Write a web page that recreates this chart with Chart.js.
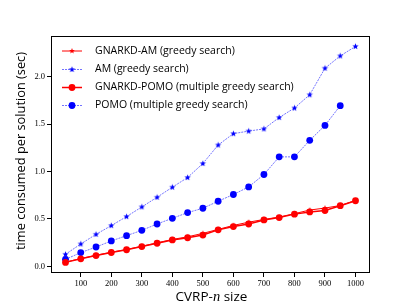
<!DOCTYPE html>
<html>
<head>
<meta charset="utf-8">
<script src="https://cdn.jsdelivr.net/npm/chart.js@4.4.0/dist/chart.umd.min.js"></script>
<style>
  html, body { margin: 0; padding: 0; background: #fff; }
  #wrap { width: 411px; height: 308px; }
</style>
</head>
<body>
<div id="wrap"><canvas id="grafico" width="411" height="308"></canvas></div>
<script>
const sizes = [50, 100, 150, 200, 250, 300, 350, 400, 450, 500, 550, 600, 650, 700, 750, 800, 850, 900, 950, 1000];
const pomoSizes = [50, 100, 150, 200, 250, 300, 350, 400, 450, 500, 550, 600, 650, 700, 750, 800, 850, 900, 950];

const gnarkdAm = [0.045, 0.082, 0.117, 0.149, 0.178, 0.212, 0.248, 0.284, 0.312, 0.348, 0.39, 0.432, 0.466, 0.495, 0.52, 0.556, 0.594, 0.615, 0.642, 0.695];
const am = [0.127, 0.236, 0.338, 0.43, 0.525, 0.627, 0.729, 0.835, 0.937, 1.085, 1.28, 1.40, 1.427, 1.45, 1.57, 1.67, 1.81, 2.09, 2.22, 2.32];
const gnarkdPomo = [0.042, 0.080, 0.114, 0.146, 0.175, 0.209, 0.244, 0.279, 0.302, 0.330, 0.385, 0.420, 0.447, 0.49, 0.515, 0.551, 0.574, 0.589, 0.64, 0.692];
const pomo = [0.074, 0.145, 0.204, 0.268, 0.324, 0.38, 0.447, 0.507, 0.567, 0.613, 0.687, 0.758, 0.838, 0.969, 1.155, 1.155, 1.329, 1.487, 1.695];

const xTicks = [100, 200, 300, 400, 500, 600, 700, 800, 900, 1000];
const yTicks = [0, 0.5, 1.0, 1.5, 2.0];

const labels = ['GNARKD-AM (greedy search)', 'AM (greedy search)', 'GNARKD-POMO (multiple greedy search)', 'POMO (multiple greedy search)'];

const sans = "'Open Sans', 'DejaVu Sans', sans-serif";
const serif = "'Liberation Serif', 'DejaVu Serif', serif";

// estrela preenchida (marcador '*' do matplotlib)
function fazEstrela(raio, cor) {
  const c = document.createElement('canvas');
  const s = Math.ceil(raio * 2 + 2);
  c.width = s; c.height = s;
  const g = c.getContext('2d');
  g.fillStyle = cor;
  g.beginPath();
  for (let i = 0; i < 10; i++) {
    const r = i % 2 === 0 ? raio : raio * 0.42;
    const a = -Math.PI / 2 + i * Math.PI / 5;
    const px = s / 2 + r * Math.cos(a);
    const py = s / 2 + r * Math.sin(a);
    if (i === 0) g.moveTo(px, py); else g.lineTo(px, py);
  }
  g.closePath();
  g.fill();
  return c;
}

const estrelaVermelha = fazEstrela(3, '#ff0000');
const estrelaAzul = fazEstrela(3.3, '#0000ff');

function pares(xs, ys) {
  return xs.map((x, i) => ({ x: x, y: ys[i] }));
}

const datasets = [
  {
    label: labels[0],
    data: pares(sizes, gnarkdAm),
    borderColor: '#ff0000',
    borderWidth: 1,
    pointStyle: estrelaVermelha,
    pointRadius: 3,
    backgroundColor: '#ff0000'
  },
  {
    label: labels[1],
    data: pares(sizes, am),
    borderColor: 'rgba(0,0,255,0.55)',
    borderWidth: 1,
    borderDash: [2, 1],
    pointStyle: estrelaAzul,
    pointRadius: 4,
    backgroundColor: '#0000ff'
  },
  {
    label: labels[2],
    data: pares(sizes, gnarkdPomo),
    borderColor: '#ff0000',
    borderWidth: 1.5,
    pointStyle: 'circle',
    pointRadius: 3.4,
    pointBorderWidth: 0,
    backgroundColor: '#ff0000'
  },
  {
    label: labels[3],
    data: pares(pomoSizes, pomo),
    borderColor: 'rgba(0,0,255,0.55)',
    borderWidth: 1,
    borderDash: [2, 1],
    pointStyle: 'circle',
    pointRadius: 3.4,
    pointBorderWidth: 0,
    backgroundColor: '#0000ff'
  }
];

// moldura, legenda e titulos dos eixos
const extras = {
  id: 'extras',
  afterDatasetsDraw(chart) {
    const ctx = chart.ctx;
    const a = chart.chartArea;
    ctx.save();
    ctx.strokeStyle = '#000';
    ctx.lineWidth = 1;
    ctx.strokeRect(Math.round(a.left) + 0.5, Math.round(a.top) + 0.5,
      Math.round(a.right - a.left) - 1, Math.round(a.bottom - a.top) - 1);

    // legenda
    const lx0 = 62, lx1 = 82, tx = 95;
    const ly = [51, 69.5, 87.5, 105.5];
    datasets.forEach((ds, i) => {
      const y = ly[i];
      ctx.save();
      ctx.strokeStyle = ds.borderColor;
      ctx.lineWidth = ds.borderWidth;
      ctx.setLineDash(ds.borderDash || []);
      ctx.beginPath();
      ctx.moveTo(lx0, y);
      ctx.lineTo(lx1, y);
      ctx.stroke();
      ctx.restore();
      const mx = (lx0 + lx1) / 2;
      if (ds.pointStyle === 'circle') {
        ctx.fillStyle = ds.backgroundColor;
        ctx.beginPath();
        ctx.arc(mx, y, ds.pointRadius, 0, Math.PI * 2);
        ctx.fill();
      } else {
        const img = ds.pointStyle;
        ctx.drawImage(img, mx - img.width / 2, y - img.height / 2);
      }
      ctx.fillStyle = '#000';
      ctx.font = '10.5px ' + sans;
      ctx.textBaseline = 'middle';
      ctx.textAlign = 'left';
      ctx.fillText(ds.label, tx, y);
    });

    // titulo eixo x: CVRP-n size
    ctx.fillStyle = '#000';
    ctx.textBaseline = 'alphabetic';
    const partes = [
      { t: 'CVRP-', f: '13.5px ' + sans },
      { t: 'n', f: 'italic 14.5px ' + serif },
      { t: ' size', f: '13.5px ' + sans }
    ];
    let larg = 0;
    partes.forEach(p => { ctx.font = p.f; p.w = ctx.measureText(p.t).width; larg += p.w; });
    let x = (a.left + a.right) / 2 + 1 - larg / 2;
    partes.forEach(p => { ctx.font = p.f; ctx.fillText(p.t, x, 301); x += p.w; });

    // titulo eixo y
    ctx.translate(21, 151);
    ctx.rotate(-Math.PI / 2);
    ctx.font = '12.8px ' + sans;
    ctx.textAlign = 'center';
    ctx.textBaseline = 'middle';
    ctx.fillText('time consumed per solution (sec)', 0, 0);
    ctx.restore();
  }
};

new Chart(document.getElementById('grafico').getContext('2d'), {
  type: 'line',
  data: { datasets: datasets },
  plugins: [extras],
  options: {
    responsive: false,
    animation: false,
    layout: { padding: { left: 0, top: 36, right: 41, bottom: 0 } },
    plugins: {
      legend: { display: false },
      tooltip: { enabled: false }
    },
    scales: {
      x: {
        type: 'linear',
        min: 2.5,
        max: 1047.5,
        afterBuildTicks: (axis) => { axis.ticks = xTicks.map(v => ({ value: v })); },
        afterFit: (axis) => { axis.height = 35; },
        grid: { display: true, drawOnChartArea: false, color: '#000', tickLength: 4, tickWidth: 1 },
        border: { display: false },
        ticks: {
          color: '#000',
          font: { family: serif, size: 8.5 },
          padding: 2,
          maxRotation: 0,
          callback: (v) => String(v)
        }
      },
      y: {
        type: 'linear',
        min: -0.07,
        max: 2.43,
        afterBuildTicks: (axis) => { axis.ticks = yTicks.map(v => ({ value: v })); },
        afterFit: (axis) => { axis.width = 51; },
        grid: { display: true, drawOnChartArea: false, color: '#000', tickLength: 4, tickWidth: 1 },
        border: { display: false },
        ticks: {
          color: '#000',
          font: { family: serif, size: 8.5 },
          padding: 2,
          callback: (v) => v.toFixed(1)
        }
      }
    }
  }
});
</script>
</body>
</html>
